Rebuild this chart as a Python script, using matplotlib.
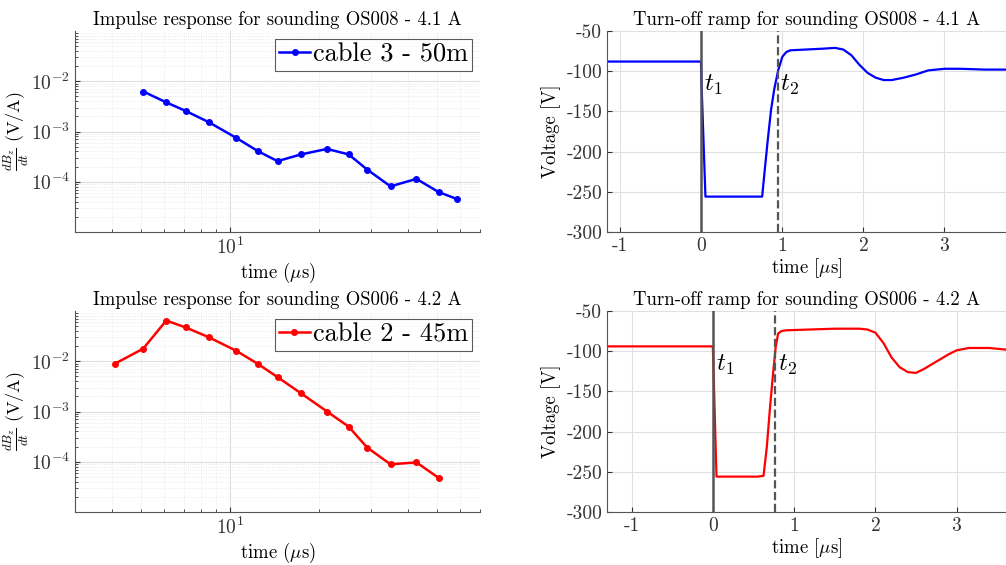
import matplotlib
matplotlib.use("Agg")
import matplotlib.pyplot as plt
import numpy as np

plt.rcParams['font.family'] = 'serif'
plt.rcParams['font.serif'] = ['cmr10']
plt.rcParams['mathtext.fontset'] = 'cm'
plt.rcParams['axes.unicode_minus'] = False
plt.rcParams['axes.formatter.use_mathtext'] = True

# impulse response, sounding OS008 (cable 3 - 50m)
t_os008 = [5.1, 6.1, 7.1, 8.5, 10.5, 12.5, 14.5, 17.4, 21.3, 25.2, 29.1, 34.9, 42.7, 50.7, 58.7]
db_os008 = [6.25e-3, 3.8e-3, 2.56e-3, 1.53e-3, 7.5e-4, 4.0e-4, 2.57e-4, 3.5e-4, 4.5e-4, 3.5e-4,
            1.75e-4, 8.1e-5, 1.14e-4, 6.25e-5, 4.5e-5]

# impulse response, sounding OS006 (cable 2 - 45m)
t_os006 = [4.1, 5.1, 6.1, 7.1, 8.5, 10.5, 12.5, 14.5, 17.4, 21.3, 25.2, 29.1, 34.9, 42.7, 50.7]
db_os006 = [9.0e-3, 1.78e-2, 6.45e-2, 4.7e-2, 3.0e-2, 1.62e-2, 8.7e-3, 4.83e-3, 2.3e-3, 1.0e-3,
            5.0e-4, 1.92e-4, 8.9e-5, 9.7e-5, 4.8e-5]

# turn-off ramp OS008
ramp_t_008 = [-1.17, -0.5, -0.005, 0.0, 0.05, 0.3, 0.6, 0.75, 0.78, 0.82, 0.86, 0.9, 0.95, 1.0, 1.05,
              1.1, 1.3, 1.5, 1.65, 1.75, 1.85, 1.95, 2.05, 2.15, 2.25, 2.35, 2.5, 2.65, 2.8, 3.0,
              3.2, 3.5, 3.76]
ramp_v_008 = [-88, -88, -88, -110, -256, -256, -256, -256, -225, -185, -148, -122, -98, -82, -76,
              -74, -73, -72, -71, -73, -80, -92, -102, -108, -111, -111, -108, -104, -99, -97,
              -97, -98, -98]
t1_008 = 0.0
t2_008 = 0.945

# turn-off ramp OS006
ramp_t_006 = [-1.31, -0.5, -0.005, 0.0, 0.04, 0.3, 0.55, 0.62, 0.66, 0.7, 0.74, 0.77, 0.8, 0.84,
              0.9, 1.2, 1.5, 1.8, 1.9, 2.0, 2.1, 2.2, 2.3, 2.4, 2.5, 2.6, 2.75, 2.9, 3.0, 3.15,
              3.4, 3.61]
ramp_v_006 = [-94, -94, -94, -110, -256, -256, -256, -255, -220, -170, -125, -95, -78, -75,
              -74, -73, -72, -72, -73, -77, -90, -108, -120, -126, -127, -122, -113, -104, -99, -96,
              -96, -98]
t1_006 = 0.0
t2_006 = 0.765

ramp_yticks = [-300, -250, -200, -150, -100, -50]
ramp_xticks = [-1, 0, 1, 2, 3]

fig = plt.figure(figsize=(10.06, 5.65), dpi=100)


def impulse_ax(rect, t, d, color, label, title):
    ax = fig.add_axes(rect)
    ax.loglog(t, d, '-o', color=color, lw=1.8, ms=4, mfc=color, label=label)
    ax.set_xlim(3, 70)
    ax.set_ylim(1e-5, 1e-1)
    ax.set_yticks([1e-4, 1e-3, 1e-2])
    ax.set_xticks([10])
    ax.grid(True, which='major', color='#dddddd', lw=0.8)
    ax.grid(True, which='minor', color='#e4e4e4', lw=0.6, ls=':')
    for s in ['top', 'right']:
        ax.spines[s].set_visible(False)
    ax.spines['left'].set_color('#555555')
    ax.spines['bottom'].set_color('#555555')
    ax.tick_params(which='both', direction='in', labelsize=14, colors='#333333')
    ax.set_title(title, fontsize=13.5, pad=4)
    ax.set_xlabel(r'time ($\mu$s)', fontsize=13.5, labelpad=2)
    ax.set_ylabel(r'$\frac{dB_z}{dt}$ (V/A)', fontsize=13, labelpad=0)
    leg = ax.legend(loc='upper right', fontsize=19, frameon=True, fancybox=False,
                    handlelength=1.2, handletextpad=0.1, borderpad=0.15,
                    borderaxespad=0.3)
    leg.get_frame().set_edgecolor('#333333')
    leg.get_frame().set_linewidth(0.8)
    return ax


def ramp_ax(rect, t, v, t1, t2, xlim, color, title):
    ax = fig.add_axes(rect)
    ax.plot(t, v, color=color, lw=1.6)
    ax.axvline(t1, color='#555555', lw=1.8)
    ax.axvline(t2, color='#555555', lw=1.6, ls='--')
    ax.text(t1 + 0.03, -102, r'$t_1$', fontsize=18, va='top')
    ax.text(t2 + 0.03, -102, r'$t_2$', fontsize=18, va='top')
    ax.set_xlim(*xlim)
    ax.set_ylim(-300, -50)
    ax.set_yticks(ramp_yticks)
    ax.set_yticklabels([str(y) for y in ramp_yticks])
    ax.set_xticks(ramp_xticks)
    ax.set_xticklabels([str(x) for x in ramp_xticks])
    ax.grid(True, color='#e0e0e0', lw=0.8)
    for s in ['top', 'right']:
        ax.spines[s].set_visible(False)
    ax.spines['left'].set_color('#555555')
    ax.spines['bottom'].set_color('#555555')
    ax.tick_params(direction='in', labelsize=14, colors='#333333')
    ax.set_title(title, fontsize=13.5, pad=4)
    ax.set_xlabel(r'time [$\mu$s]', fontsize=13.5, labelpad=1)
    ax.set_ylabel('Voltage [V]', fontsize=13.5)
    return ax


impulse_ax([75 / 1006, 1 - 232 / 565, 405 / 1006, 201 / 565], t_os008, db_os008, 'blue',
           'cable 3 - 50m', 'Impulse response for sounding OS008 - 4.1 A')
impulse_ax([75 / 1006, 1 - 512 / 565, 405 / 1006, 201 / 565], t_os006, db_os006, 'red',
           'cable 2 - 45m', 'Impulse response for sounding OS006 - 4.2 A')
ramp_ax([607 / 1006, 1 - 232 / 565, 399 / 1006, 201 / 565], ramp_t_008, ramp_v_008, t1_008, t2_008,
        (-1.165, 3.76), 'blue', 'Turn-off ramp for sounding OS008 - 4.1 A')
ramp_ax([607 / 1006, 1 - 512 / 565, 399 / 1006, 201 / 565], ramp_t_006, ramp_v_006, t1_006, t2_006,
        (-1.31, 3.61), 'red', 'Turn-off ramp for sounding OS006 - 4.2 A')

fig.savefig('out.png', dpi=100)
